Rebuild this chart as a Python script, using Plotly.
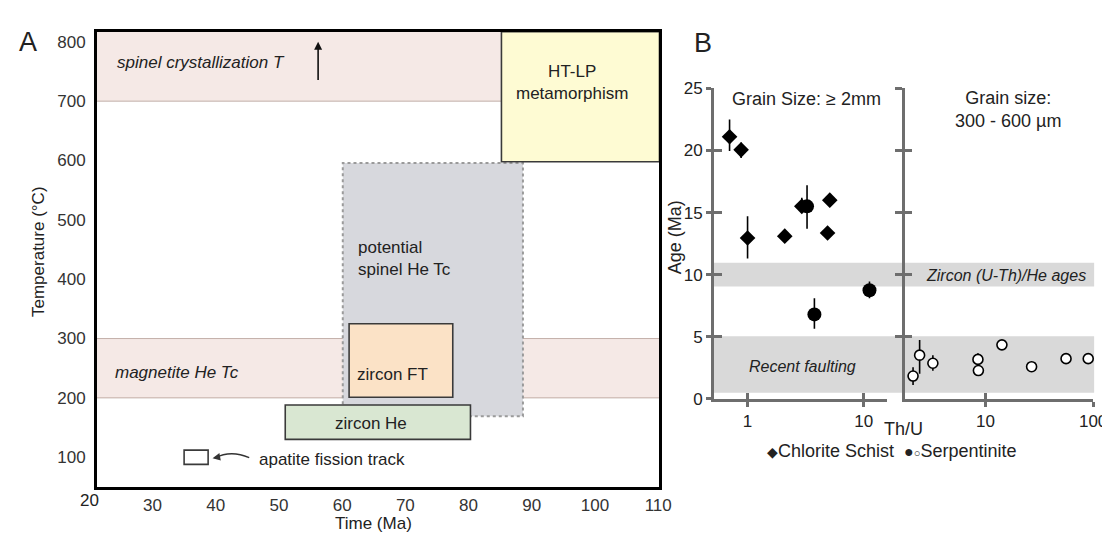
import plotly.graph_objects as go

FONT = "Liberation Sans, Arial, sans-serif"
INK = "#222222"
GREY_AX = "#6e6e6e"

# ---------------- panel A : time (Ma) vs temperature (°C) windows
crystal_T = [700, 817]            # spinel crystallization T (open upwards)
magnetite_Tc = [200, 300]         # magnetite He Tc band
spinel_Tc_time = [60.1, 88.6]     # potential spinel He Tc
spinel_Tc_temp = [169, 596]
zircon_ft_time = [61.1, 77.5]
zircon_ft_temp = [201, 325]
zircon_he_time = [51.0, 80.3]
zircon_he_temp = [130, 188]
htlp_time = [85.2, 110.2]         # HT-LP metamorphism
htlp_temp = [598, 817]
aft_time = [35.0, 38.8]           # apatite fission track
aft_temp = [88, 112]
time_ticks = [30, 40, 50, 60, 70, 80, 90, 100, 110]
temp_ticks = [100, 200, 300, 400, 500, 600, 700, 800]

# ---------------- panel B : age (Ma) vs Th/U
schist_thu = [0.70, 0.88, 1.0, 2.09, 2.93, 5.1, 4.88]
schist_age = [21.1, 20.05, 12.95, 13.1, 15.5, 16.0, 13.35]
schist_up = [1.4, 0.6, 1.75, 0, 0.7, 0, 0]
schist_dn = [1.15, 0.65, 1.65, 0, 0.5, 0, 0]

serp_coarse_thu = [3.25, 3.76, 11.2]
serp_coarse_age = [15.5, 6.8, 8.75]
serp_coarse_up = [1.7, 1.3, 0.7]
serp_coarse_dn = [1.8, 1.15, 0.65]

serp_fine_thu = [2.12, 2.44, 3.24, 8.5, 8.58, 14.2, 26.8, 56, 90]
serp_fine_age = [1.84, 3.52, 2.87, 3.18, 2.28, 4.35, 2.59, 3.24, 3.24]
serp_fine_up = [0.7, 1.22, 0.65, 0.5, 0, 0.3, 0, 0, 0]
serp_fine_dn = [0.73, 1.5, 0.6, 0, 0, 0.3, 0, 0, 0]

zircon_uthhe_band = [9.05, 10.95]
faulting_band = [0.5, 5.05]
age_ticks = [0, 5, 10, 15, 20, 25]

fig = go.Figure()

# ---- panel B data
def err(up, dn):
    return dict(type="data", symmetric=False, array=up, arrayminus=dn,
                color="black", thickness=1.6, width=0)

fig.add_trace(go.Scatter(
    x=schist_thu, y=schist_age, mode="markers", xaxis="x2", yaxis="y2",
    marker=dict(symbol="diamond", size=12, color="black"),
    error_y=err(schist_up, schist_dn), cliponaxis=False, showlegend=False))
fig.add_trace(go.Scatter(
    x=serp_coarse_thu, y=serp_coarse_age, mode="markers", xaxis="x2", yaxis="y2",
    marker=dict(symbol="circle", size=14, color="black"),
    error_y=err(serp_coarse_up, serp_coarse_dn), cliponaxis=False, showlegend=False))
fig.add_trace(go.Scatter(
    x=serp_fine_thu, y=serp_fine_age, mode="markers", xaxis="x3", yaxis="y3",
    marker=dict(symbol="circle", size=10, color="white", line=dict(color="black", width=1.6)),
    error_y=err(serp_fine_up, serp_fine_dn), cliponaxis=False, showlegend=False))

# dummy traces so the overlay axes (crossing tick marks) are drawn
fig.add_trace(go.Scatter(x=[], y=[], xaxis="x4", yaxis="y4", showlegend=False))
fig.add_trace(go.Scatter(x=[], y=[], xaxis="x5", yaxis="y5", showlegend=False))

shapes = []
# ---- panel A shapes (drawing order matters)
band = "rgba(215,165,150,0.24)"
band_edge = "rgba(150,120,110,0.55)"
shapes.append(dict(type="rect", xref="x domain", yref="y", x0=0, x1=1,
                   y0=crystal_T[0], y1=crystal_T[1], fillcolor=band, line=dict(width=0), layer="below"))
shapes.append(dict(type="line", xref="x domain", yref="y", x0=0, x1=1,
                   y0=crystal_T[0], y1=crystal_T[0], line=dict(color=band_edge, width=1), layer="below"))
shapes.append(dict(type="rect", xref="x", yref="y", x0=spinel_Tc_time[0], x1=spinel_Tc_time[1],
                   y0=spinel_Tc_temp[0], y1=spinel_Tc_temp[1], fillcolor="#d7d8dd",
                   line=dict(color="#9a9a9a", width=2, dash="dot"), layer="below"))
shapes.append(dict(type="rect", xref="x domain", yref="y", x0=0, x1=1,
                   y0=magnetite_Tc[0], y1=magnetite_Tc[1], fillcolor=band,
                   line=dict(width=0), layer="below"))
for v in magnetite_Tc:
    shapes.append(dict(type="line", xref="x domain", yref="y", x0=0, x1=1, y0=v, y1=v,
                       line=dict(color=band_edge, width=1), layer="below"))
for (t, T, col) in [(zircon_ft_time, zircon_ft_temp, "#fbe2c6"),
                    (zircon_he_time, zircon_he_temp, "#d9e7d2"),
                    (htlp_time, htlp_temp, "#fefbd3"),
                    (aft_time, aft_temp, "white")]:
    shapes.append(dict(type="rect", xref="x", yref="y", x0=t[0], x1=t[1], y0=T[0], y1=T[1],
                       fillcolor=col, line=dict(color="#3a3a3a", width=1.6), layer="below"))
# curved pointer to the apatite box
shapes.append(dict(type="path", xref="x", yref="y",
                   path="M 45.3,99.2 Q 42.4,112.8 39.9,98.8",
                   line=dict(color="#333", width=1.4)))

# ---- panel B bands
for b in (zircon_uthhe_band, faulting_band):
    shapes.append(dict(type="rect", xref="paper", yref="y2", x0=715 / 1110, x1=1100 / 1110,
                       y0=b[0], y1=b[1], fillcolor="#d9d9d9", line=dict(width=0), layer="below"))

fig.update_layout(shapes=shapes)

ann = []
def txt(text, x, y, size=17, xref="x", yref="y", xanchor="left", italic=False, **kw):
    if italic:
        text = "<i>" + text + "</i>"
    ann.append(dict(text=text, x=x, y=y, xref=xref, yref=yref, xanchor=xanchor,
                    yanchor="middle", showarrow=False,
                    font=dict(family=FONT, size=size, color=INK), **kw))

# panel A labels
txt("spinel crystallization T", 24.1, 766, italic=True)
txt("magnetite He Tc", 23.7, 243, italic=True)
txt("potential<br>spinel He Tc", 62.2, 435, align="left")
txt("zircon FT", 62.1, 239)
txt("zircon He", 64.6, 156, xanchor="center")
txt("apatite fission track", 46.6, 96)
txt("HT-LP<br>metamorphism", 96.3, 732, xanchor="center", align="center")
txt("20", 82.5 / 1110, 1 - 501 / 533, xref="paper", yref="paper", xanchor="center")
txt("Time (Ma)", 370 / 1110, 0.014, xref="paper", yref="paper", xanchor="center")
txt("Temperature (°C)", 31 / 1110, 0.544, xref="paper", yref="paper", xanchor="center", textangle=-90)
txt("A", 20 / 1110, 1 - 26 / 533, size=27, xref="paper", yref="paper", xanchor="center")
txt("B", 704 / 1110, 1 - 27 / 533, size=27, xref="paper", yref="paper", xanchor="center")
ann.append(dict(x=56.2, y=800, ax=56.2, ay=733, xref="x", yref="y", axref="x", ayref="y",
                showarrow=True, arrowhead=2, arrowsize=1, arrowwidth=1.6, arrowcolor="#111", text=""))
ann.append(dict(x=39.5, y=98.4, ax=40.6, ay=100.6, xref="x", yref="y", axref="x", ayref="y",
                showarrow=True, arrowhead=2, arrowsize=1.1, arrowwidth=1.4, arrowcolor="#333", text=""))

# panel B labels
txt("Grain Size: \u2265 2mm", 731 / 1110, 1 - 85 / 533, size=18, xref="paper", yref="paper")
txt("Grain size:<br>300 - 600 \u00b5m", 1013 / 1110, 1 - 96 / 533, size=18, xref="paper",
    yref="paper", xanchor="center", align="center")
txt("Zircon (U-Th)/He ages", 928 / 1110, 1 - 268 / 533, size=16, xref="paper", yref="paper", italic=True)
txt("Recent faulting", 748 / 1110, 1 - 362 / 533, size=16, xref="paper", yref="paper", italic=True)
txt("Th/U", 907 / 1110, 1 - 427 / 533, size=18, xref="paper", yref="paper", xanchor="center")
txt("Age (Ma)", 675 / 1110, 1 - 228 / 533, size=18, xref="paper", yref="paper", xanchor="center",
    textangle=-90)
txt("<span style='font-size:14px'>\u25c6</span>Chlorite Schist  "
    "<span style='font-size:16px'>\u25cf</span><span style='font-size:11px'>\u25cb</span>Serpentinite",
    895 / 1110, 1 - 450 / 533, size=18, xref="paper", yref="paper", xanchor="center")
fig.update_layout(annotations=ann)

tickfont = dict(family=FONT, size=17, color="#333")
ydomB = [1 - 396 / 533, 1 - 74 / 533]
axB = dict(showline=True, linecolor=GREY_AX, linewidth=2.6, ticks="outside", tickcolor=GREY_AX,
           tickwidth=2.6, showgrid=False, zeroline=False, tickfont=dict(family=FONT, size=17, color=INK))
over = dict(showline=False, ticks="inside", tickcolor=GREY_AX, tickwidth=2.6, showgrid=False,
            zeroline=False, showticklabels=False)

fig.update_layout(
    width=1110, height=533,
    margin=dict(l=0, r=0, t=0, b=0),
    paper_bgcolor="white", plot_bgcolor="rgba(0,0,0,0)",
    font=dict(family=FONT, color=INK),
    xaxis=dict(domain=[90 / 1110, 659.8 / 1110], range=[21.2, 110.2], anchor="y",
               tickvals=time_ticks, ticks="", showgrid=False, zeroline=False,
               showline=True, mirror=True, linecolor="black", linewidth=2.6, tickfont=tickfont),
    yaxis=dict(domain=[1 - 487.7 / 533, 1 - 15.3 / 533], range=[49.3, 817], anchor="x",
               tickvals=temp_ticks, ticks="", showgrid=False, zeroline=False, ticklabelstandoff=5,
               showline=True, mirror=True, linecolor="black", linewidth=2.6, tickfont=tickfont),
    xaxis2=dict(axB, type="log", domain=[715 / 1110, 890 / 1110], range=[-0.289, 1.198],
                anchor="y2", tickvals=[1, 10], ticktext=["1", "10"], ticklen=5),
    yaxis2=dict(axB, domain=ydomB, range=[0, 25], anchor="x2", tickvals=age_ticks, ticklen=5),
    xaxis3=dict(axB, type="log", domain=[908.3 / 1110, 1099 / 1110], range=[0.25, 2.0],
                anchor="y3", tickvals=[10, 100], ticktext=["10", "100"], ticklen=5),
    yaxis3=dict(axB, domain=ydomB, range=[0, 25], anchor="x3", tickvals=age_ticks[1:],
                ticklen=7, showticklabels=False),
    xaxis4=dict(over, type="log", overlaying="x2", anchor="y2", range=[-0.289, 1.198],
                tickvals=[1, 10], ticklen=6),
    yaxis4=dict(over, overlaying="y2", anchor="x2", range=[0, 25], tickvals=age_ticks[1:], ticklen=8),
    xaxis5=dict(over, type="log", overlaying="x3", anchor="y3", range=[0.25, 2.0],
                tickvals=[10, 100], ticklen=6),
    yaxis5=dict(over, overlaying="y3", anchor="x3", range=[0, 25], tickvals=age_ticks[1:], ticklen=7),
)

fig.write_html("out.html")
